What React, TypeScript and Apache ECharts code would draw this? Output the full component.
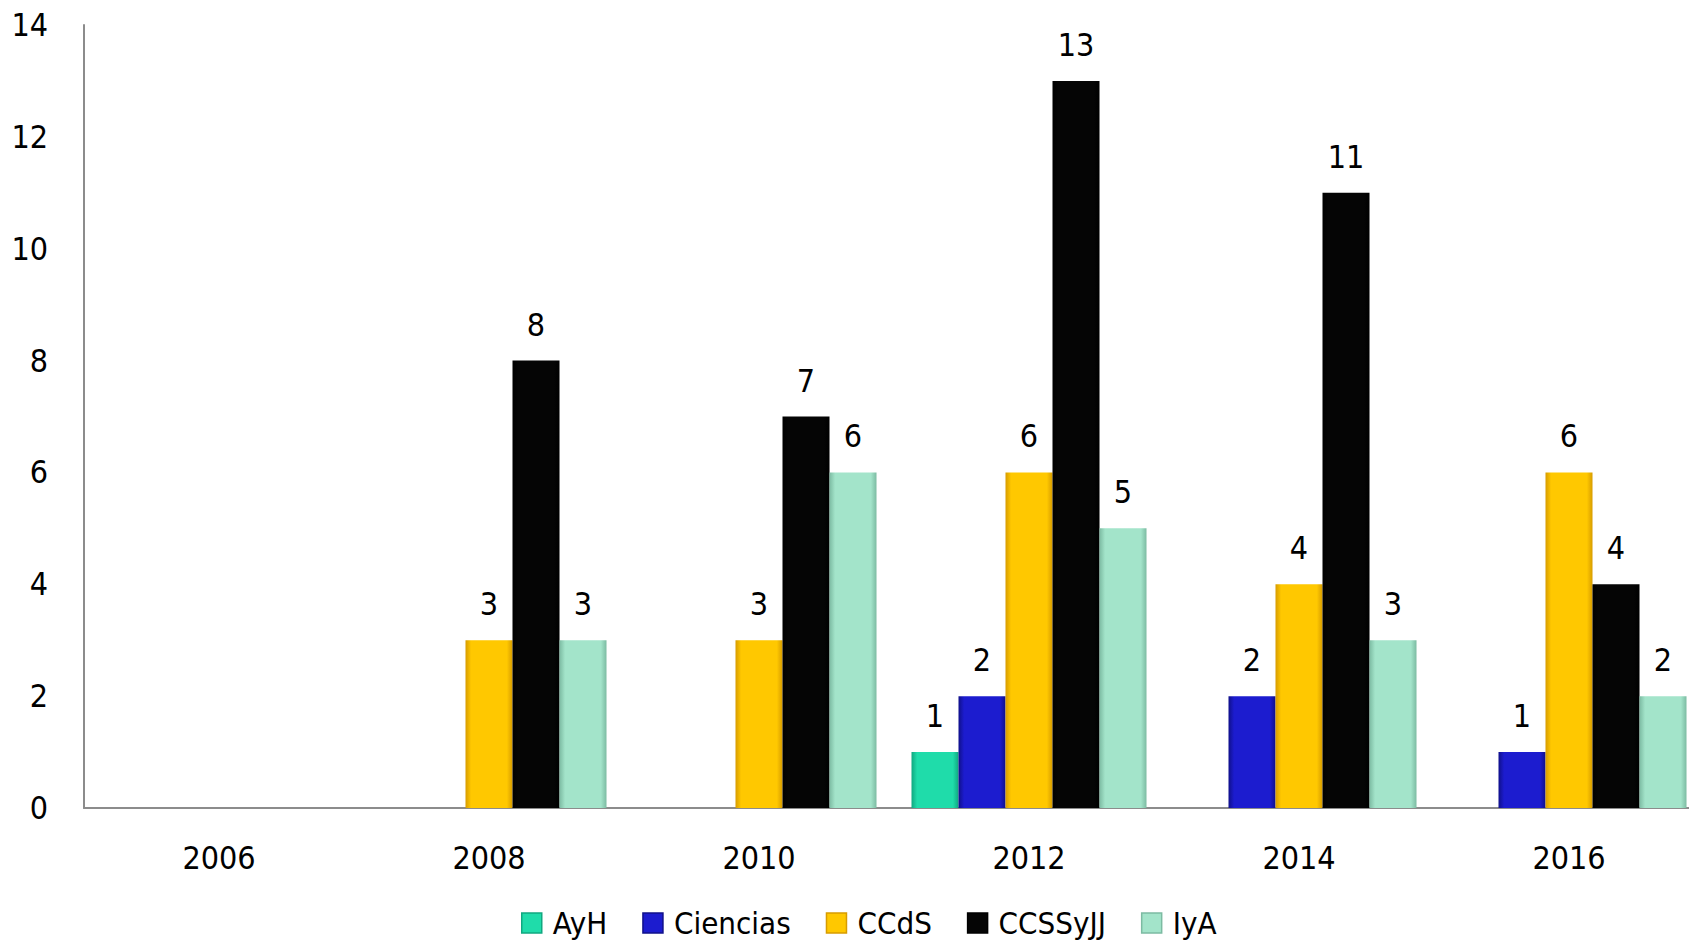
import React, { useEffect, useRef } from "react";
import * as echarts from "echarts";

const categories = ["2006", "2008", "2010", "2012", "2014", "2016"];
const seriesNames = ["AyH", "Ciencias", "CCdS", "CCSSyJJ", "IyA"];
const ayh = [0, 0, 0, 1, 0, 0];
const ciencias = [0, 0, 0, 2, 2, 1];
const ccds = [0, 3, 3, 6, 4, 6];
const ccssyjj = [0, 8, 7, 13, 11, 4];
const iya = [0, 3, 6, 5, 3, 2];
const yTicks = { min: 0, max: 14, interval: 2 };

const palette = [
  { base: "#1fdcaa", edge: "#10a880", icon: "#1fdcaa" },
  { base: "#1c1ccf", edge: "#10108a", icon: "#1c1ccf" },
  { base: "#ffc800", edge: "#d79c00", icon: "#ffc800" },
  { base: "#050505", edge: "#000000", icon: "#050505" },
  { base: "#a3e4ca", edge: "#7cbba2", icon: "#a3e4ca" },
];

const FONT = "'Liberation Sans Narrow', 'DejaVu Sans Condensed', 'Lato', sans-serif";

function grad(c: { base: string; edge: string }) {
  return new echarts.graphic.LinearGradient(0, 0, 1, 0, [
    { offset: 0, color: c.edge },
    { offset: 0.12, color: c.base },
    { offset: 0.88, color: c.base },
    { offset: 1, color: c.edge },
  ]);
}

export default function App() {
  const ref = useRef<HTMLDivElement>(null);
  useEffect(() => {
    if (!ref.current) return;
    const chart = echarts.init(ref.current, undefined, { renderer: "svg" });
    const data = [ayh, ciencias, ccds, ccssyjj, iya];
    chart.setOption({
      animation: false,
      backgroundColor: "#ffffff",
      textStyle: { fontFamily: FONT },
      grid: {
        left: 84,
        right: 16,
        top: 25,
        bottom: 134,
        containLabel: false,
        outerBoundsMode: "none",
      },
      legend: {
        top: 902,
        left: 516,
        itemWidth: 20,
        itemHeight: 20,
        itemGap: 35,
        icon: "rect",
        textStyle: {
          fontFamily: FONT,
          fontSize: 31,
          lineHeight: 32,
          color: "#000",
          padding: [0, 0, 0, 6],
        },
        data: seriesNames.map((n, i) => ({
          name: n,
          itemStyle: { color: palette[i].icon, borderColor: palette[i].edge, borderWidth: 1.5 },
        })),
      },
      xAxis: {
        type: "category",
        data: categories,
        axisLine: { lineStyle: { color: "#8c8c8c", width: 2 } },
        axisTick: { show: false },
        axisLabel: { fontFamily: FONT, fontSize: 32, color: "#000", margin: 34 },
      },
      yAxis: {
        type: "value",
        min: yTicks.min,
        max: yTicks.max,
        interval: yTicks.interval,
        axisLine: { show: true, lineStyle: { color: "#8c8c8c", width: 2 } },
        axisTick: { show: false },
        splitLine: { show: false },
        axisLabel: { fontFamily: FONT, fontSize: 32, color: "#000", margin: 36 },
      },
      series: seriesNames.map((n, i) => ({
        name: n,
        type: "bar",
        data: data[i],
        barWidth: 47,
        barGap: "0%",
        itemStyle: { color: grad(palette[i]) },
        label: {
          show: true,
          position: "top",
          distance: 20,
          fontFamily: FONT,
          fontSize: 32,
          color: "#000",
          formatter: (p: any) => (p.value === 0 ? "" : String(p.value)),
        },
      })),
    });
    return () => chart.dispose();
  }, []);
  return (
    <div
      style={{
        position: "absolute",
        left: 0,
        top: 0,
        width: 1689,
        height: 942,
        overflow: "hidden",
        background: "#fff",
      }}
    >
      <div ref={ref} style={{ width: 1720, height: 942 }} />
    </div>
  );
}
